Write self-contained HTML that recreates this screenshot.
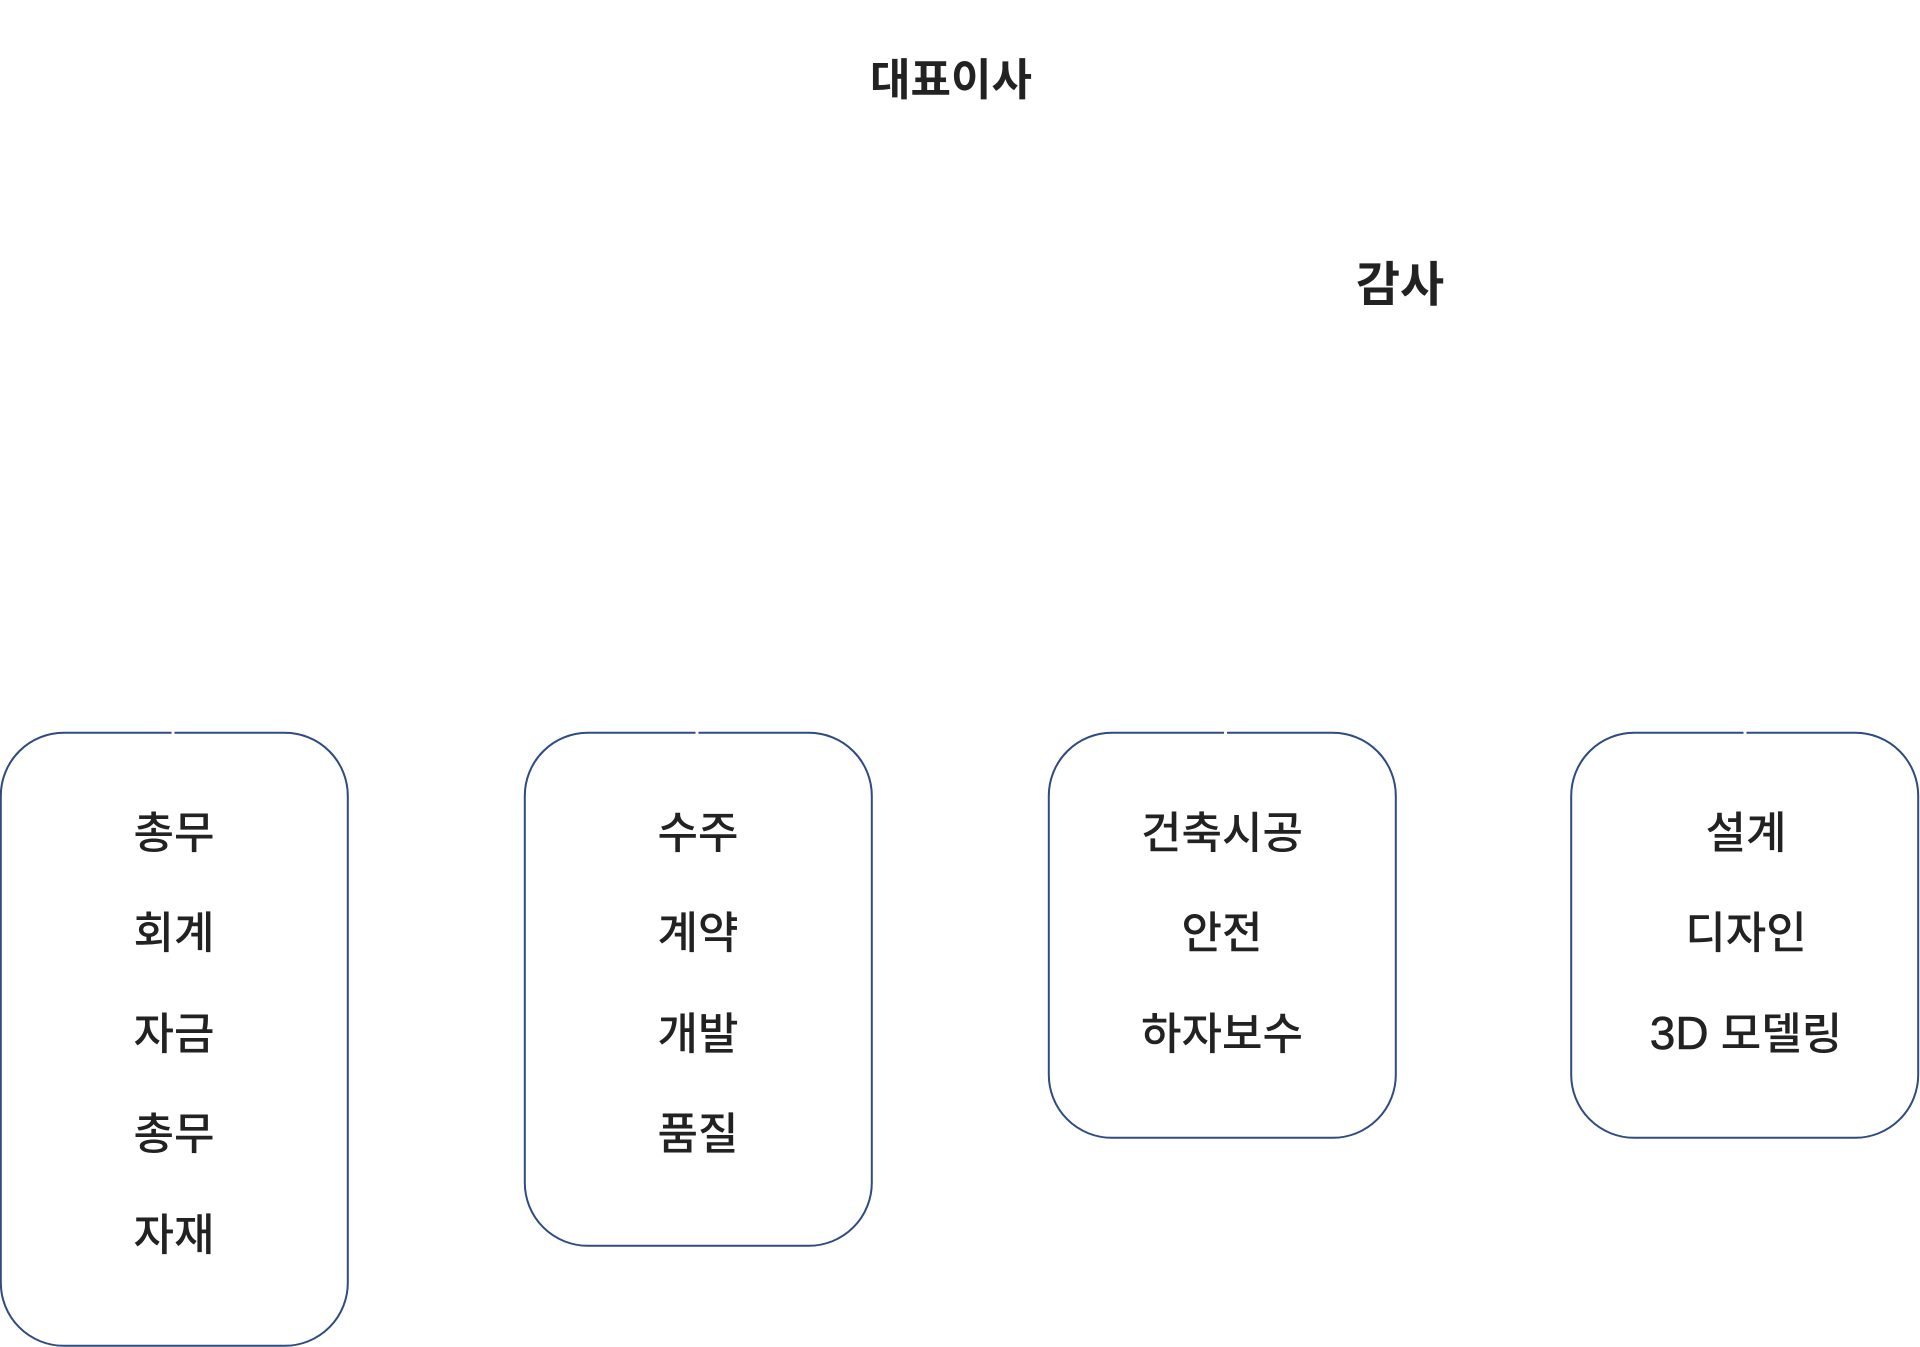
<!DOCTYPE html>
<html lang="ko">
<head>
<meta charset="utf-8">
<style>
html,body{margin:0;padding:0;background:#fff;}
body{width:1920px;height:1347px;overflow:hidden;}
svg{display:block;}
text{font-family:"Liberation Sans","Noto Sans CJK KR",sans-serif;fill:#222;text-anchor:middle;}
.h{font-family:"Noto Sans CJK KR",sans-serif;font-weight:700;font-size:44px;}
.h2{font-family:"Noto Sans CJK KR",sans-serif;font-weight:700;font-size:48px;}
.t{font-family:"Noto Sans CJK KR",sans-serif;font-weight:500;font-size:44px;}
.m{font-family:"Liberation Sans","Noto Sans CJK KR",sans-serif;font-weight:500;font-size:44px;}
.d{font-size:46px;stroke:#222;stroke-width:.6;}
rect{fill:#fff;stroke:#2f4b82;stroke-width:2;}
.g{fill:#fff;stroke:none;}
</style>
</head>
<body>
<svg width="1920" height="1347" viewBox="0 0 1920 1347" xmlns="http://www.w3.org/2000/svg">
<text class="h" x="951" y="95">대표이사</text>
<text class="h2" x="1400" y="301">감사</text>

<rect x="0.8" y="732.8" width="347" height="613" rx="63" ry="63"/>
<rect class="g" x="171.5" y="730" width="3" height="5"/>
<text class="t" x="174" y="848">총무</text>
<text class="t" x="174" y="948">회계</text>
<text class="t" x="174" y="1049">자금</text>
<text class="t" x="174" y="1149">총무</text>
<text class="t" x="174" y="1250">자재</text>

<rect x="524.8" y="732.8" width="347" height="513" rx="63" ry="63"/>
<rect class="g" x="695.5" y="730" width="3" height="5"/>
<text class="t" x="698" y="848">수주</text>
<text class="t" x="698" y="948">계약</text>
<text class="t" x="698" y="1049">개발</text>
<text class="t" x="698" y="1149">품질</text>

<rect x="1048.8" y="732.8" width="347" height="405" rx="63" ry="63"/>
<rect class="g" x="1224" y="730" width="3" height="5"/>
<text class="t" x="1222" y="848">건축시공</text>
<text class="t" x="1222" y="948">안전</text>
<text class="t" x="1222" y="1049">하자보수</text>

<rect x="1571.2" y="732.8" width="347" height="405" rx="63" ry="63"/>
<rect class="g" x="1743.5" y="730" width="3" height="5"/>
<text class="t" x="1746" y="848">설계</text>
<text class="t" x="1746" y="948">디자인</text>
<text class="m" x="1746" y="1049"><tspan class="d">3D</tspan> 모델링</text>
</svg>
</body>
</html>
